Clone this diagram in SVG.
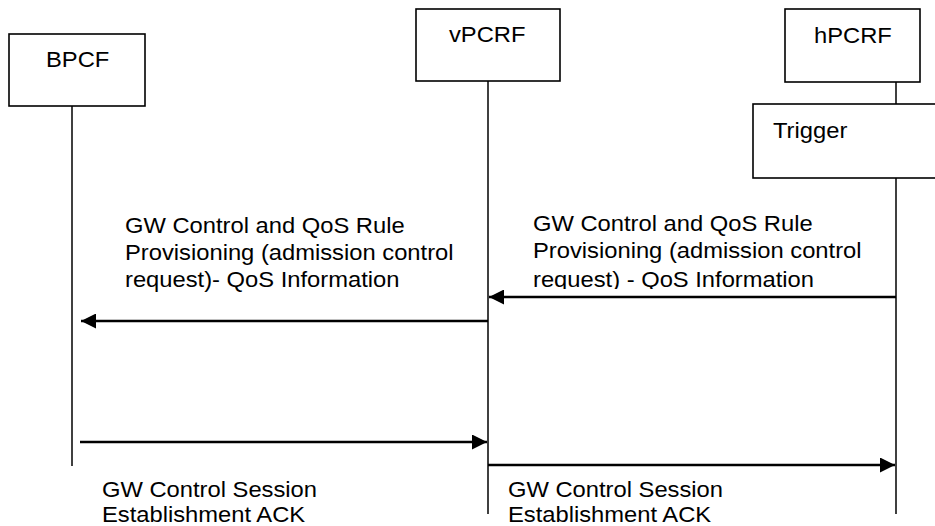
<svg xmlns="http://www.w3.org/2000/svg" width="935" height="526" viewBox="0 0 935 526">
  <style>
    .box { fill: #ffffff; stroke: #000000; stroke-width: 1.6; }
    .life { stroke: #000000; stroke-width: 1.5; fill: none; }
    .msg { stroke: #000000; stroke-width: 2.6; fill: none; }
    .lbl { font-family: "Liberation Sans", Arial, sans-serif; font-size: 22px; fill: #000000; }
  </style>
  <defs>
    <marker id="arrow" viewBox="0 0 15 15" refX="15" refY="7.5" markerWidth="15" markerHeight="15" markerUnits="userSpaceOnUse" orient="auto">
      <path d="M0,0 L15,7.5 L0,15 Z" fill="#000000"/>
    </marker>
    <!-- text frame of the upper right message label -->
    <clipPath id="clipRightMsg">
      <rect x="500" y="190" width="420" height="99"/>
    </clipPath>
  </defs>

  <rect width="935" height="526" fill="#ffffff"/>

  <!-- lifelines -->
  <g id="lifelines">
    <line class="life" x1="72" y1="106" x2="72" y2="466"/>
    <line class="life" x1="488" y1="81" x2="488" y2="514"/>
    <line class="life" x1="896" y1="82" x2="896" y2="104"/>
    <line class="life" x1="896" y1="178" x2="896" y2="514"/>
  </g>

  <g id="bpcf">
    <rect class="box" x="9" y="34" width="136" height="72"/>
    <text class="lbl" transform="translate(46 67) scale(1.08 1)">BPCF</text>
  </g>

  <g id="vpcrf">
    <rect class="box" x="416" y="9" width="144" height="72"/>
    <text class="lbl" transform="translate(449 42) scale(1.08 1)">vPCRF</text>
  </g>

  <g id="hpcrf">
    <rect class="box" x="785" y="9" width="135" height="73"/>
    <text class="lbl" transform="translate(814 43) scale(1.08 1)">hPCRF</text>
  </g>

  <g id="trigger">
    <rect class="box" x="753" y="104" width="190" height="74"/>
    <text class="lbl" transform="translate(773 138) scale(1.08 1)">Trigger</text>
  </g>

  <!-- messages -->
  <g id="connectors">
    <line class="msg" x1="896" y1="297" x2="489" y2="297" marker-end="url(#arrow)"/>
    <line class="msg" x1="488" y1="321" x2="81" y2="321" marker-end="url(#arrow)"/>
    <line class="msg" x1="80" y1="442" x2="487" y2="442" marker-end="url(#arrow)"/>
    <line class="msg" x1="488" y1="465" x2="895" y2="465" marker-end="url(#arrow)"/>
  </g>

  <!-- message labels -->
  <g id="labels">
    <text class="lbl" transform="translate(125 233) scale(1.08 1)">
      <tspan x="0" y="0">GW Control and QoS Rule</tspan>
      <tspan x="0" y="27">Provisioning (admission control</tspan>
      <tspan x="0" y="54">request)- QoS Information</tspan>
    </text>
    <g clip-path="url(#clipRightMsg)">
      <text class="lbl" transform="translate(533 231) scale(1.08 1)">
        <tspan x="0" y="0">GW Control and QoS Rule</tspan>
        <tspan x="0" y="27">Provisioning (admission control</tspan>
        <tspan x="0" y="56">request) - QoS Information</tspan>
      </text>
    </g>
    <text class="lbl" transform="translate(102 497) scale(1.08 1)">
      <tspan x="0" y="0">GW Control Session</tspan>
      <tspan x="0" y="25.5">Establishment ACK</tspan>
    </text>
    <text class="lbl" transform="translate(508 497) scale(1.08 1)">
      <tspan x="0" y="0">GW Control Session</tspan>
      <tspan x="0" y="25.5">Establishment ACK</tspan>
    </text>
  </g>
</svg>
